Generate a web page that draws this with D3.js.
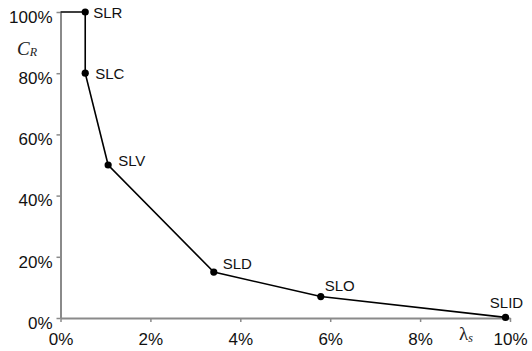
<!DOCTYPE html>
<html>
<head>
<meta charset="utf-8">
<script src="https://cdn.jsdelivr.net/npm/d3@7"></script>
<style>
  html, body { margin: 0; padding: 0; background: #fff; }
  svg { display: block; }
</style>
</head>
<body>
<svg id="chart" width="532" height="351"></svg>
<script>
// ---- data ----
const labels   = ["", "SLR", "SLC", "SLV", "SLD", "SLO", "SLID"];
const lambdaS  = [0, 0.55, 0.55, 1.06, 3.41, 5.79, 9.9];   // x, percent
const coverage = [100, 100, 80, 50, 15, 7, 0.2];            // y, percent
const xTicks = [0, 2, 4, 6, 8, 10];
const yTicks = [0, 20, 40, 60, 80, 100];

// label placement (style, not data)
const labelOffsets = {
  "SLR":  {dx: 8,  dy: 6,   anchor: "start"},
  "SLC":  {dx: 10, dy: 6,   anchor: "start"},
  "SLV":  {dx: 10, dy: 1,   anchor: "start"},
  "SLD":  {dx: 9,  dy: -3,  anchor: "start"},
  "SLO":  {dx: 4,  dy: -6,  anchor: "start"},
  "SLID": {dx: 1,  dy: -9,  anchor: "middle"}
};

const sans = "'Liberation Sans', Arial, Helvetica, sans-serif";
const serif = "'Liberation Serif', 'Times New Roman', serif";

const svg = d3.select("#chart");
const x = d3.scaleLinear().domain([0, 10]).range([60.5, 510]);
const y = d3.scaleLinear().domain([0, 100]).range([318, 12]);

const axisColor = "#8a8a8a";

// x axis
const gx = svg.append("g").attr("transform", "translate(0,318)")
  .call(d3.axisBottom(x).tickValues(xTicks).tickSize(4).tickSizeOuter(0).tickPadding(11)
    .tickFormat(d => d + "%"));
gx.select(".domain").attr("stroke", axisColor).attr("stroke-width", 2);
gx.selectAll(".tick line").attr("stroke", axisColor).attr("stroke-width", 1.5);
gx.selectAll(".tick text").style("font-size", "17px").style("font-family", sans).attr("fill", "#111");

// y axis
const gy = svg.append("g").attr("transform", "translate(60.5,0)")
  .call(d3.axisLeft(y).tickValues(yTicks).tickSize(4).tickSizeOuter(0).tickPadding(4)
    .tickFormat(d => d + "%"));
gy.select(".domain").attr("stroke", axisColor).attr("stroke-width", 2);
gy.selectAll(".tick line").attr("stroke", axisColor).attr("stroke-width", 1.5);
gy.selectAll(".tick text").style("font-size", "17px").style("font-family", sans).attr("fill", "#111")
  .attr("dy", "0.6em");

// data
const pts = labels.map((l, i) => ({label: l, x: lambdaS[i], y: coverage[i]}));

svg.append("path")
  .datum(pts)
  .attr("fill", "none")
  .attr("stroke", "#000")
  .attr("stroke-width", 1.6)
  .attr("d", d3.line().x(d => x(d.x)).y(d => y(d.y)));

const marked = pts.filter(d => d.label !== "");
svg.selectAll("circle.pt").data(marked).join("circle")
  .attr("class", "pt")
  .attr("cx", d => x(d.x)).attr("cy", d => y(d.y)).attr("r", 3.6)
  .attr("fill", "#000");

svg.selectAll("text.lbl").data(marked).join("text")
  .attr("class", "lbl")
  .attr("x", d => x(d.x) + labelOffsets[d.label].dx)
  .attr("y", d => y(d.y) + labelOffsets[d.label].dy)
  .attr("text-anchor", d => labelOffsets[d.label].anchor)
  .style("font-family", sans)
  .style("font-size", "15px")
  .attr("fill", "#111")
  .text(d => d.label);

// axis titles
const cr = svg.append("text").attr("x", 17).attr("y", 55)
  .style("font-family", serif)
  .style("font-style", "italic").style("font-size", "19px").attr("fill", "#222");
cr.append("tspan").text("C");
cr.append("tspan").style("font-size", "12px").attr("dy", 1).text("R");

const ls = svg.append("text").attr("x", 459).attr("y", 340)
  .style("font-family", serif)
  .style("font-size", "19px").attr("fill", "#222");
ls.append("tspan").text("λ");
ls.append("tspan").style("font-style", "italic").style("font-size", "12px").attr("dy", 2).text("s");
</script>
</body>
</html>
